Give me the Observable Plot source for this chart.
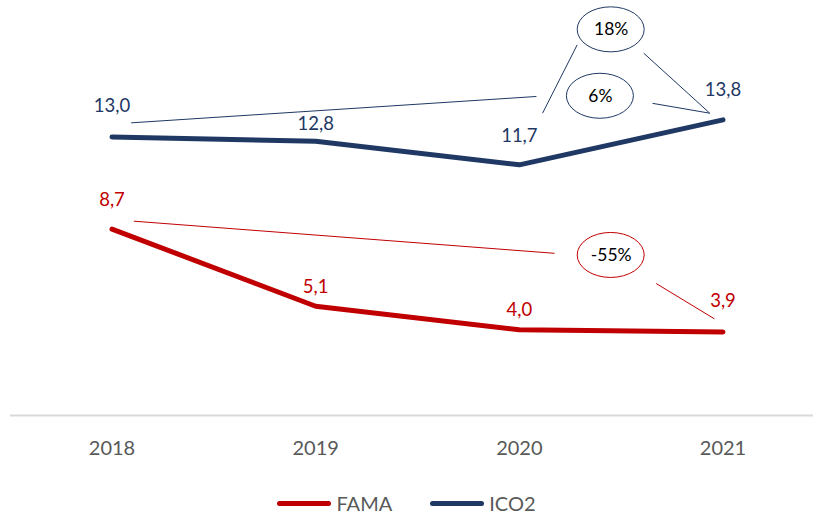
<!DOCTYPE html>
<html>
<head>
<meta charset="utf-8">
<script src="https://cdn.jsdelivr.net/npm/d3@7"></script>
<script src="https://cdn.jsdelivr.net/npm/@observablehq/plot@0.6"></script>
<style>
  html, body { margin: 0; padding: 0; background: #fff; }
  #chart { width: 813px; }
  .legend { display: flex; justify-content: center; align-items: center; height: 24px; padding-top: 16px;
    font-family: Lato, "Open Sans", sans-serif; font-size: 20px; color: #595959; }
  .legend .item { display: flex; align-items: center; margin: 0 19px; }
  .legend .sw { width: 54px; height: 5px; border-radius: 3px; margin-right: 5px; }
</style>
</head>
<body>
<div id="chart"></div>
<script>
// ---- data ----
const years = [2018, 2019, 2020, 2021];
const series = ["FAMA", "ICO2"];
const colors = ["#C00000", "#1F3864"];
const famaValues = [8.7, 5.1, 4.0, 3.9];
const ico2Values = [13.0, 12.8, 11.7, 13.8];
const famaLabelDy = [-29, -19, -20, -31];
const ico2LabelDy = [-31, -17, -29, -30];
// annotation callouts (data units)
const bubbleLabels = ["18%", "6%", "-55%"];
const bubbleSeries = ["ICO2", "ICO2", "FAMA"];
const bubbleX = [2020.451, 2020.398, 2020.451];
const bubbleY = [18.00, 14.90, 7.47];
const linkSeries = ["ICO2", "ICO2", "ICO2", "ICO2", "FAMA", "FAMA"];
const linkX1 = [2018.094, 2020.114, 2020.611, 2020.654, 2018.107, 2020.672];
const linkY1 = [13.66, 14.11, 16.91, 14.57, 9.07, 6.16];
const linkX2 = [2020.084, 2020.284, 2020.935, 2020.935, 2020.173, 2020.958];
const linkY2 = [14.89, 17.30, 14.11, 14.11, 7.57, 4.51];

const colorOf = s => colors[series.indexOf(s)];
const rows = [
  ...years.map((y, i) => ({year: y, value: famaValues[i], series: "FAMA", dy: famaLabelDy[i]})),
  ...years.map((y, i) => ({year: y, value: ico2Values[i], series: "ICO2", dy: ico2LabelDy[i]}))
];
const links = linkX1.map((_, i) => ({x1: linkX1[i], y1: linkY1[i], x2: linkX2[i], y2: linkY2[i], series: linkSeries[i]}));
const bubbles = bubbleLabels.map((l, i) => ({label: l, x: bubbleX[i], y: bubbleY[i], series: bubbleSeries[i]}));
const fmt = v => v.toFixed(1).replace(".", ",");

function ellipseMark(data) {
  return (index, scales) => {
    const g = d3.create("svg:g");
    for (const d of data) {
      g.append("ellipse")
        .attr("cx", scales.x(d.x)).attr("cy", scales.y(d.y))
        .attr("rx", 33.5).attr("ry", 22.5)
        .attr("fill", "white").attr("stroke", colorOf(d.series)).attr("stroke-width", 1);
    }
    return g.node();
  };
}

const plot = Plot.plot({
  width: 813,
  height: 475,
  marginLeft: 10,
  marginRight: 0,
  marginTop: 0,
  marginBottom: 60,
  style: {fontFamily: "Lato, 'Open Sans', sans-serif", background: "white"},
  x: {domain: [2018, 2021], range: [111.5, 722.5]},
  y: {domain: [0, 19.37], range: [415, 0], axis: null},
  marks: [
    Plot.ruleY([0], {stroke: "#D9D9D9", strokeWidth: 2}),
    Plot.axisX({ticks: years, tickFormat: d => String(d), tickSize: 0, tickPadding: 25,
      fontSize: 20, color: "#595959", label: null}),
    Plot.line(rows, {x: "year", y: "value", z: "series", stroke: d => colorOf(d.series),
      strokeWidth: 5, strokeLinecap: "round", strokeLinejoin: "round"}),
    Plot.link(links, {x1: "x1", y1: "y1", x2: "x2", y2: "y2", stroke: d => colorOf(d.series), strokeWidth: 1}),
    ellipseMark(bubbles),
    Plot.text(bubbles, {x: "x", y: "y", text: "label", fill: "#000", fontSize: 17.5}),
    ...rows.map(d => Plot.text([d], {x: "year", y: "value", text: r => fmt(r.value),
      fill: colorOf(d.series), fontSize: 18.5, dy: d.dy}))
  ]
});
document.getElementById("chart").appendChild(plot);

const legend = document.createElement("div");
legend.className = "legend";
series.forEach((s, i) => {
  const it = document.createElement("div");
  it.className = "item";
  const sw = document.createElement("div");
  sw.className = "sw";
  sw.style.background = colors[i];
  const t = document.createElement("span");
  t.textContent = s;
  it.appendChild(sw); it.appendChild(t);
  legend.appendChild(it);
});
document.getElementById("chart").appendChild(legend);
</script>
</body>
</html>
